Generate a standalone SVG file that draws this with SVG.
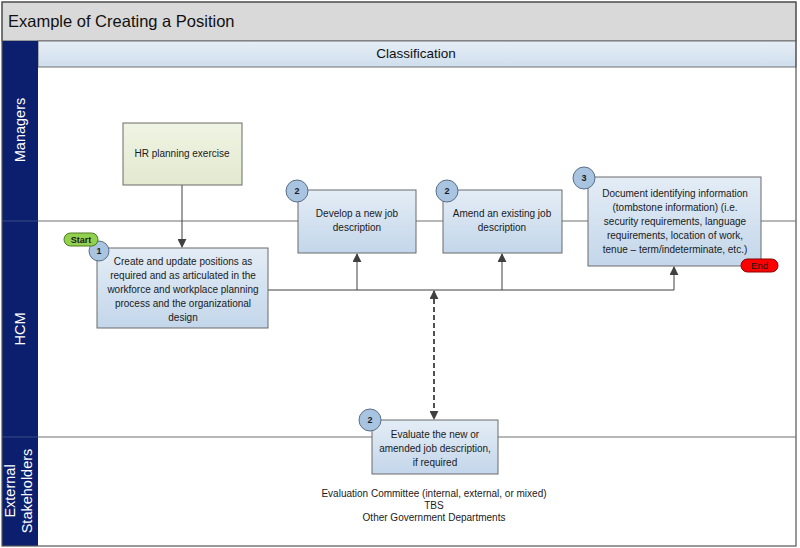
<svg xmlns="http://www.w3.org/2000/svg" width="800" height="548" viewBox="0 0 800 548">
<style>
.t{font-family:"Liberation Sans",Arial,sans-serif;fill:#1a1a1a;font-size:10px;text-anchor:middle}
.lane{font-family:"Liberation Sans",Arial,sans-serif;fill:#ffffff;font-size:14.5px;text-anchor:middle}
.box{fill:url(#gb);stroke:#6b6b6b;stroke-width:1}
.num{fill:#a9c4e0;stroke:#5a6e86;stroke-width:1}
.numt{font-family:"Liberation Sans",Arial,sans-serif;font-size:9px;font-weight:bold;fill:#1a1a1a;text-anchor:middle}
.sep{stroke:#707070;stroke-width:1.2;fill:none}
.ln{stroke:#404040;stroke-width:1;fill:none}
</style>
<defs>
<linearGradient id="gb" x1="0" y1="0" x2="0" y2="1"><stop offset="0" stop-color="#e4edf6"/><stop offset="1" stop-color="#c3d6ea"/></linearGradient>
<linearGradient id="gg" x1="0" y1="0" x2="0" y2="1"><stop offset="0" stop-color="#f0f4e4"/><stop offset="1" stop-color="#e2e9cf"/></linearGradient>
<linearGradient id="gh" x1="0" y1="0" x2="0" y2="1"><stop offset="0" stop-color="#e6eef6"/><stop offset="1" stop-color="#cfdeed"/></linearGradient>
<marker id="ah" viewBox="0 0 10 10" refX="9" refY="5" markerWidth="9" markerHeight="9" markerUnits="userSpaceOnUse" orient="auto-start-reverse"><path d="M0,0 L10,5 L0,10 z" fill="#404040"/></marker>
</defs>
<rect x="0" y="0" width="800" height="548" fill="#ffffff"/>
<g id="frame">
<rect x="2" y="2" width="794" height="39" fill="#d9d9d9" stroke="#555" stroke-width="1"/>
<text x="8" y="27" font-family="'Liberation Sans',Arial,sans-serif" font-size="16.5" fill="#111">Example of Creating a Position</text>
<rect x="38" y="41" width="758" height="26" fill="url(#gh)" stroke="#707070" stroke-width="1"/>
<text x="416" y="58" font-family="'Liberation Sans',Arial,sans-serif" font-size="13.5" fill="#111" text-anchor="middle">Classification</text>
<rect x="2" y="41" width="36" height="505" fill="#0b1f6e"/>
<line x1="2" y1="221" x2="38" y2="221" stroke="#3a4a80" stroke-width="1"/>
<line x1="2" y1="437" x2="38" y2="437" stroke="#3a4a80" stroke-width="1"/>
<rect x="2" y="2" width="794" height="544" fill="none" stroke="#555" stroke-width="1.2"/>
<line class="sep" x1="38" y1="221" x2="796" y2="221"/>
<line class="sep" x1="38" y1="437" x2="796" y2="437"/>
<text class="lane" transform="translate(25,130) rotate(-90)">Managers</text>
<text class="lane" transform="translate(25,329) rotate(-90)">HCM</text>
<text class="lane" transform="translate(15,491) rotate(-90)">External</text>
<text class="lane" transform="translate(32,491) rotate(-90)">Stakeholders</text>
</g>
<g id="connectors">
<line class="ln" x1="182" y1="185" x2="182" y2="247" marker-end="url(#ah)"/>
<polyline class="ln" points="268,290 674,290 674,267" marker-end="url(#ah)"/>
<line class="ln" x1="357" y1="290" x2="357" y2="254" marker-end="url(#ah)"/>
<line class="ln" x1="502" y1="290" x2="502" y2="254" marker-end="url(#ah)"/>
<line x1="434" y1="291" x2="434" y2="419" stroke="#505050" stroke-dasharray="5,3" stroke-width="2" marker-start="url(#ah)" marker-end="url(#ah)"/>
</g>
<g id="hr">
<rect x="123" y="123" width="119" height="62" fill="url(#gg)" stroke="#6b6b6b"/>
<text class="t" x="182" y="157">HR planning exercise</text>
</g>
<g id="step1">
<rect class="box" x="97" y="248" width="171" height="80"/>
<text class="t" x="183" y="265">Create and update positions as</text>
<text class="t" x="183" y="279">required and as articulated in the</text>
<text class="t" x="183" y="293">workforce and workplace planning</text>
<text class="t" x="183" y="307">process and the organizational</text>
<text class="t" x="183" y="321">design</text>
<circle class="num" cx="99" cy="251" r="10"/>
<text class="numt" x="99" y="254">1</text>
</g>
<g id="start">
<rect x="64" y="233" width="34" height="13" rx="6.5" fill="#92d050" stroke="#4e7a20"/>
<text x="81" y="243" font-family="'Liberation Sans',Arial,sans-serif" font-size="9" font-weight="bold" fill="#1a1a1a" text-anchor="middle">Start</text>
</g>
<g id="step2a">
<rect class="box" x="298" y="190" width="118" height="63"/>
<text class="t" x="357" y="217">Develop a new job</text>
<text class="t" x="357" y="231">description</text>
<circle class="num" cx="297" cy="191" r="11"/>
<text class="numt" x="297" y="194">2</text>
</g>
<g id="step2b">
<rect class="box" x="443" y="190" width="119" height="63"/>
<text class="t" x="502" y="217">Amend an existing job</text>
<text class="t" x="502" y="231">description</text>
<circle class="num" cx="447" cy="191" r="11"/>
<text class="numt" x="447" y="194">2</text>
</g>
<g id="step3">
<rect class="box" x="588" y="177" width="173" height="89"/>
<text class="t" x="675" y="197">Document identifying information</text>
<text class="t" x="675" y="211">(tombstone information) (i.e.</text>
<text class="t" x="675" y="225">security requirements, language</text>
<text class="t" x="675" y="239">requirements, location of work,</text>
<text class="t" x="675" y="253">tenue – term/indeterminate, etc.)</text>
<circle class="num" cx="584" cy="178" r="11"/>
<text class="numt" x="584" y="181">3</text>
</g>
<g id="end">
<rect x="741" y="259" width="37" height="13" rx="6.5" fill="#ff0000" stroke="#8b0000"/>
<text x="759.5" y="269" font-family="'Liberation Sans',Arial,sans-serif" font-size="9.5" fill="#1a1a1a" text-anchor="middle">End</text>
</g>
<g id="evaluate">
<rect class="box" x="372" y="420" width="126" height="54"/>
<text class="t" x="435" y="438">Evaluate the new or</text>
<text class="t" x="435" y="452">amended job description,</text>
<text class="t" x="435" y="466">if required</text>
<circle class="num" cx="370" cy="420" r="11"/>
<text class="numt" x="370" y="423">2</text>
</g>
<g id="stakeholders">
<text class="t" x="434" y="497" font-size="8">Evaluation Committee (internal, external, or mixed)</text>
<text class="t" x="434" y="509" font-size="8">TBS</text>
<text class="t" x="434" y="521" font-size="8">Other Government Departments</text>
</g>
</svg>
